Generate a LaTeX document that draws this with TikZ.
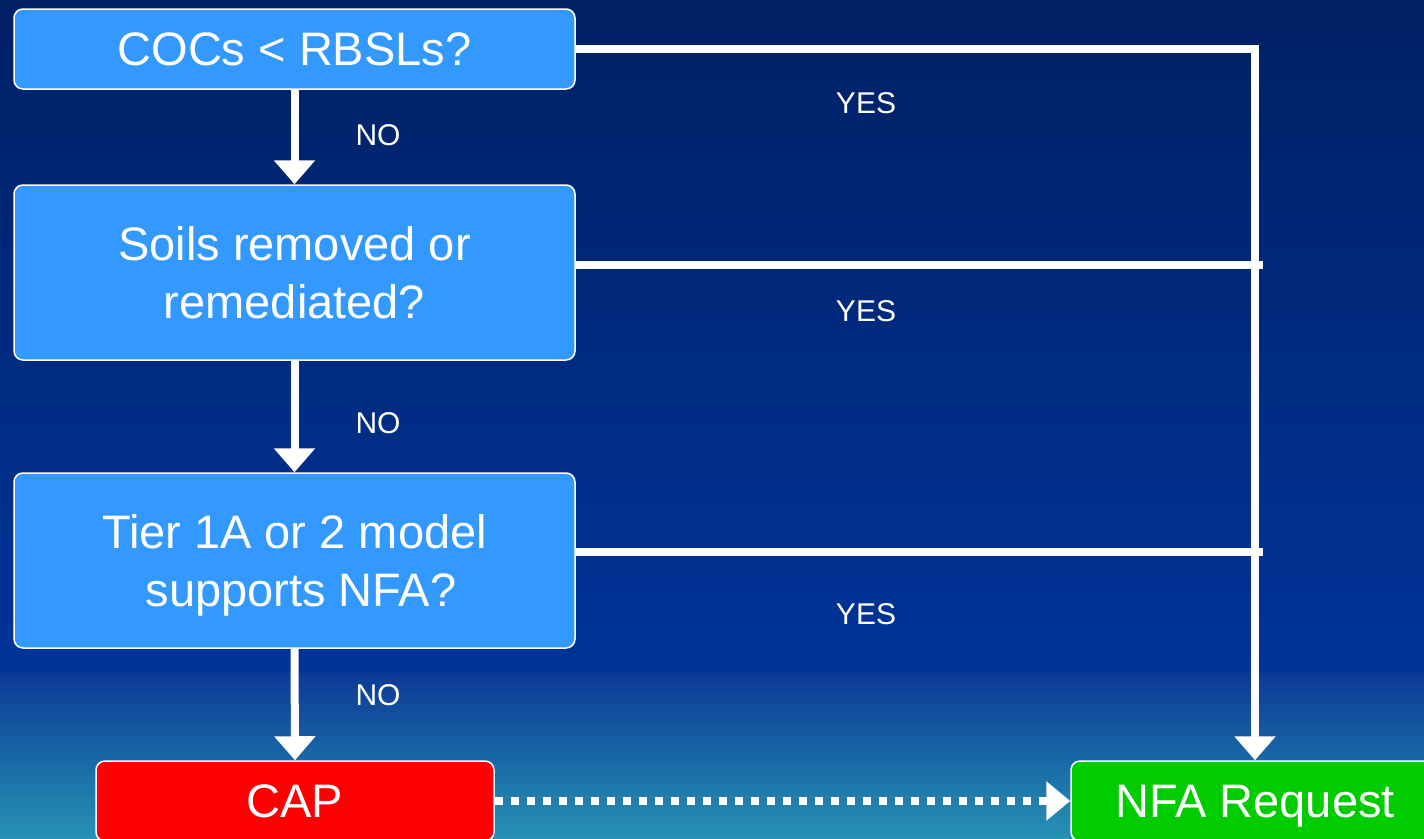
\documentclass[tikz,border=0pt]{standalone}
\usepackage{fontspec}
\setmainfont{Liberation Sans}
\usetikzlibrary{arrows.meta}
\definecolor{boxblue}{RGB}{51,153,255}
\definecolor{capred}{RGB}{255,0,0}
\definecolor{nfagreen}{RGB}{0,204,0}
\definecolor{bgtop}{RGB}{0,32,100}
\definecolor{bgmid}{RGB}{0,52,153}
\definecolor{bglowtop}{RGB}{12,58,150}
\definecolor{bglowbot}{RGB}{38,146,180}
\begin{document}
\begin{tikzpicture}[x=1pt,y=-1pt,
  box/.style={draw=white, line width=1.5pt, rounded corners=9pt, inner sep=0pt,
    text=white, align=center, font=\fontsize{47}{58}\selectfont},
  onebox/.style={box, text depth=0pt},
  twobox/.style={box, text depth=-5pt},
  conn/.style={draw=white, line width=8pt, line join=miter, -{Triangle[width=40pt,length=24pt]}},
  plainline/.style={draw=white, line width=8pt},
  dotconn/.style={draw=white, line width=8pt, dash pattern=on 8pt off 8pt, -{Triangle[width=38pt,length=24pt]}},
  lbl/.style={text=white, font=\fontsize{30}{36}\selectfont, inner sep=0pt}]
\useasboundingbox (0,0) rectangle (1424,838);
\clip (0,0) rectangle (1424,838);
% background
\shade[top color=bgtop, bottom color=bgmid] (0,0) rectangle (1424,673);
\shade[top color=bglowtop, bottom color=bglowbot] (0,673) rectangle (1424,838);
% boxes
\node[onebox, fill=boxblue, minimum width=561pt, minimum height=80pt] (b1) at (294.5,49) {COCs < RBSLs?};
\node[twobox, fill=boxblue, minimum width=561pt, minimum height=175pt] (b2) at (294.5,272.5) {Soils removed or\\remediated?};
\node[twobox, fill=boxblue, minimum width=561pt, minimum height=175pt] (b3) at (294.5,560.5) {Tier 1A or 2 model\\\ supports NFA?};
\node[onebox, fill=capred, minimum width=398pt, minimum height=80pt] (cap) at (295,801) {CAP};
\node[onebox, fill=nfagreen, minimum width=368pt, minimum height=80pt] (nfa) at (1255,801) {NFA Request};
% coordinates
\coordinate (c1) at (1255,49);
\coordinate (e2) at (1263,265);
\coordinate (e3) at (1263,552);
% connectors
\draw[conn] (b1.south) -- (b2.north);
\draw[conn] (b2.south) -- (b3.north);
\draw[conn] (b3.south) -- (cap.north);
\draw[conn] (b1.east) -- (c1) -- (nfa.north);
\draw[plainline] (b2.east |- e2) -- (e2);
\draw[plainline] (b3.east |- e3) -- (e3);
\draw[dotconn] (cap.east) -- (nfa.west);
% labels
\node[lbl] (no1) at (378,135) {NO};
\node[lbl] (no2) at (378,423) {NO};
\node[lbl] (no3) at (378,695) {NO};
\node[lbl] (yes1) at (866,103) {YES};
\node[lbl] (yes2) at (866,311) {YES};
\node[lbl] (yes3) at (866,614) {YES};
\end{tikzpicture}
\end{document}
